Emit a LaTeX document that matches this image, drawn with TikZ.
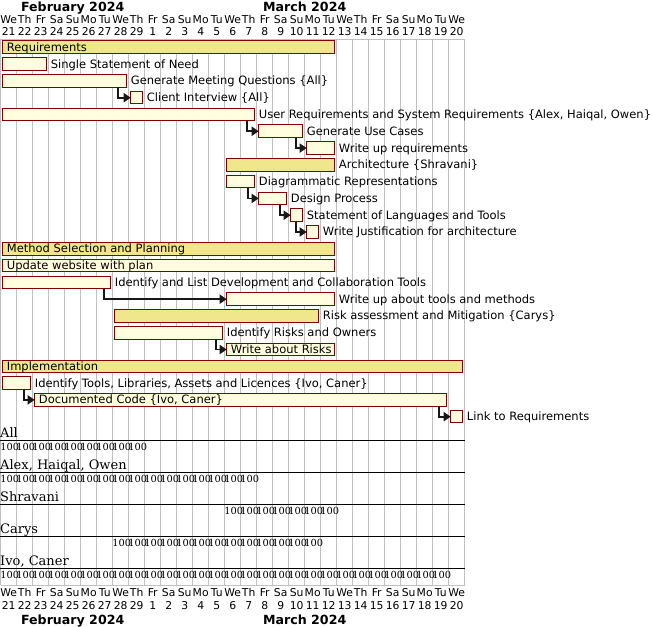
\documentclass[tikz,border=0pt]{standalone}
\usepackage{fontspec}
\setmainfont{DejaVu Sans}
\newfontfamily\resfont{DejaVu Serif}
\usetikzlibrary{arrows.meta}
\definecolor{khakifill}{HTML}{F0E68C}
\definecolor{taskfill}{HTML}{FFFFE0}
\definecolor{taskborder}{HTML}{800000}
\definecolor{gridgray}{HTML}{C0C0C0}
\definecolor{deparrow}{HTML}{181818}
\tikzset{
  bar/.style={draw=taskborder, line width=1pt, fill=taskfill, inner sep=0pt, outer sep=0pt, minimum height=12.6pt},
  groupbar/.style={bar, fill=khakifill},
  lbl/.style={inner sep=0pt, anchor=base west, font=\fontsize{11.5}{13}\selectfont, text=black},
  dep/.style={draw=deparrow, line width=1.8pt, -{Triangle[length=7pt,width=9pt]}},
  gridline/.style={draw=gridgray, line width=1pt},
  daylbl/.style={inner sep=0pt, anchor=base, font=\fontsize{10.8}{12}\selectfont},
  monthlbl/.style={inner sep=0pt, anchor=base, font=\fontsize{12.6}{14}\selectfont\bfseries},
  resname/.style={inner sep=0pt, anchor=base west, font=\resfont\fontsize{13}{15}\selectfont},
  resload/.style={inner sep=0pt, anchor=base west, font=\resfont\fontsize{9.8}{11}\selectfont},
  resline/.style={draw=black, line width=1pt}
}
\newcommand\gtask[7]{%
  \pgfmathsetmacro\gxs{0.7+16*#2+2}%
  \pgfmathsetmacro\gwd{16*(#3-#2+1)-4}%
  \pgfmathsetmacro\gyy{47.3+16.79*#4}%
  \node[#5, minimum width=\gwd pt, anchor=west] (#1) at (\gxs,\gyy) {};
  \ifnum#7=1
    \node[lbl] (#1-l) at ([xshift=4pt,yshift=-4pt]#1.west) {#6};
  \else
    \node[lbl] (#1-l) at ([xshift=4pt,yshift=-4pt]#1.east) {#6};
  \fi
}
\newcommand\resrow[5]{%
  \pgfmathsetmacro\ry{440.3+32*#1}%
  \draw[resline] (0,\ry) -- (464.7,\ry);
  \pgfmathsetmacro\rny{\ry-3}%
  \pgfmathsetmacro\rly{\ry+9.9}%
  \node[resname] (#5) at (0,\rny) {#2};
  \foreach \j in {#3,...,#4} {\node[resload] (#5-\j) at ({0.2+16*\j},\rly) {100};}
}
\begin{document}
\begin{tikzpicture}[x=1pt,y=-1pt]
\useasboundingbox (0,0) rectangle (652,626);
% grid
\foreach \i in {0,...,29} {\draw[gridline] ({0.7+16*\i},39.5) -- ({0.7+16*\i},585);}
\draw[gridline] (0.7,39.5) -- (464.7,39.5);
\draw[gridline] (0.7,585) -- (464.7,585);
% header / footer
\foreach [count=\i from 0] \d/\n in {We/21,Th/22,Fr/23,Sa/24,Su/25,Mo/26,Tu/27,We/28,Th/29,Fr/1,Sa/2,Su/3,Mo/4,Tu/5,We/6,Th/7,Fr/8,Sa/9,Su/10,Mo/11,Tu/12,We/13,Th/14,Fr/15,Sa/16,Su/17,Mo/18,Tu/19,We/20} {
  \node[daylbl] (dn\i) at ({8.7+16*\i},23.4) {\d};
  \node[daylbl] (dd\i) at ({8.7+16*\i},35.4) {\n};
  \node[daylbl] (bn\i) at ({8.7+16*\i},596.6) {\d};
  \node[daylbl] (bd\i) at ({8.7+16*\i},609.4) {\n};
}
\node[monthlbl] (feb) at (72.7,11.3) {February 2024};
\node[monthlbl] (mar) at (304.7,11.3) {March 2024};
\node[monthlbl] (febb) at (72.7,624.1) {February 2024};
\node[monthlbl] (marb) at (304.7,624.1) {March 2024};
% tasks
\gtask{req}{0}{20}{0}{groupbar}{Requirements}{1}
\gtask{ssn}{0}{2}{1}{bar}{Single Statement of Need}{0}
\gtask{gmq}{0}{7}{2}{bar}{Generate Meeting Questions \{All\}}{0}
\gtask{ci}{8}{8}{3}{bar}{Client Interview \{All\}}{0}
\gtask{ur}{0}{15}{4}{bar}{User Requirements and System Requirements \{Alex, Haiqal, Owen\}}{0}
\gtask{guc}{16}{18}{5}{bar}{Generate Use Cases}{0}
\gtask{wur}{19}{20}{6}{bar}{Write up requirements}{0}
\gtask{arch}{14}{20}{7}{groupbar}{Architecture \{Shravani\}}{0}
\gtask{dr}{14}{15}{8}{bar}{Diagrammatic Representations}{0}
\gtask{dp}{16}{17}{9}{bar}{Design Process}{0}
\gtask{slt}{18}{18}{10}{bar}{Statement of Languages and Tools}{0}
\gtask{wja}{19}{19}{11}{bar}{Write Justification for architecture}{0}
\gtask{msp}{0}{20}{12}{groupbar}{Method Selection and Planning}{1}
\gtask{uwp}{0}{20}{13}{bar}{Update website with plan}{1}
\gtask{ild}{0}{6}{14}{bar}{Identify and List Development and Collaboration Tools}{0}
\gtask{wtm}{14}{20}{15}{bar}{Write up about tools and methods}{0}
\gtask{ram}{7}{19}{16}{groupbar}{Risk assessment and Mitigation \{Carys\}}{0}
\gtask{iro}{7}{13}{17}{bar}{Identify Risks and Owners}{0}
\gtask{war}{14}{20}{18}{bar}{Write about Risks}{1}
\gtask{impl}{0}{28}{19}{groupbar}{Implementation}{1}
\gtask{itl}{0}{1}{20}{bar}{Identify Tools, Libraries, Assets and Licences \{Ivo, Caner\}}{0}
\gtask{dc}{2}{27}{21}{bar}{Documented Code \{Ivo, Caner\}}{1}
\gtask{ltr}{28}{28}{22}{bar}{Link to Requirements}{0}
% dependencies
\draw[dep] ([xshift=-9pt]gmq.south east) |- (ci.west);
\draw[dep] ([xshift=-8pt]ur.south east) |- (guc.west);
\draw[dep] ([xshift=-7pt]guc.south east) |- (wur.west);
\draw[dep] ([xshift=-7pt]dr.south east) |- (dp.west);
\draw[dep] ([xshift=-7pt]dp.south east) |- (slt.west);
\draw[dep] ([xshift=-7pt]slt.south east) |- (wja.west);
\draw[dep] ([xshift=-7pt]ild.south east) |- (wtm.west);
\draw[dep] ([xshift=-7pt]iro.south east) |- (war.west);
\draw[dep] ([xshift=-7pt]itl.south east) |- (dc.west);
\draw[dep] ([xshift=-8pt]dc.south east) |- (ltr.west);
% resources
\resrow{0}{All}{0}{8}{rall}
\resrow{1}{Alex, Haiqal, Owen}{0}{15}{raho}
\resrow{2}{Shravani}{14}{20}{rsh}
\resrow{3}{Carys}{7}{19}{rca}
\resrow{4}{Ivo, Caner}{0}{27}{ric}
\end{tikzpicture}
\end{document}
